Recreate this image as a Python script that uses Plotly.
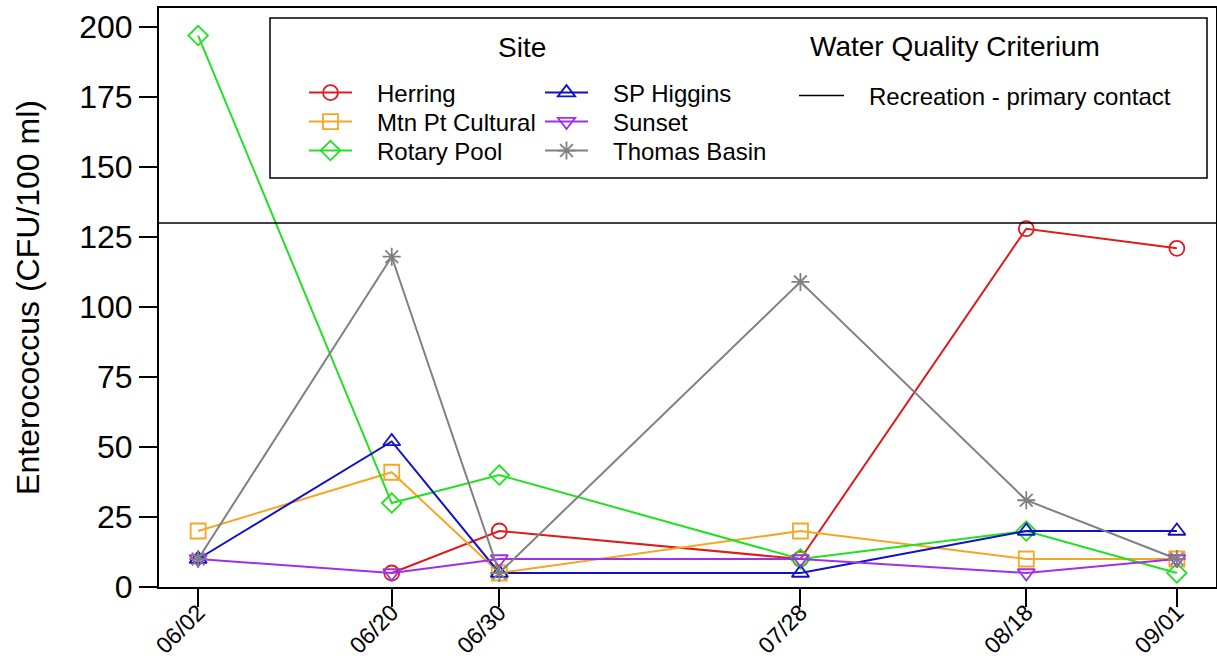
import pandas as pd
import plotly.graph_objects as go

# ---- data ----
dates = ["2022-06-02", "2022-06-20", "2022-06-30", "2022-07-28", "2022-08-18", "2022-09-01"]
date_labels = ["06/02", "06/20", "06/30", "07/28", "08/18", "09/01"]

herring = [None, 5, 20, 10, 128, 121]
mtn_pt_cultural = [20, 41, 5, 20, 10, 10]
rotary_pool = [197, 30, 40, 10, 20, 5]
sp_higgins = [10, 52, 5, 5, 20, 20]
sunset = [10, 5, 10, 10, 5, 10]
thomas_basin = [10, 118, 5, 109, 31, 10]

criterion_name = "Recreation - primary contact"
criterion_value = 130

y_ticks = [0, 25, 50, 75, 100, 125, 150, 175, 200]

series = [
    ("Herring", herring, "#DD1C1C", "circle-open"),
    ("Mtn Pt Cultural", mtn_pt_cultural, "#F5A623", "square-open"),
    ("Rotary Pool", rotary_pool, "#22E022", "diamond-open"),
    ("SP Higgins", sp_higgins, "#1010C8", "triangle-up-open"),
    ("Sunset", sunset, "#A030E8", "triangle-down-open"),
    ("Thomas Basin", thomas_basin, "#808080", "asterisk-open"),
]

FONT = "Arial, Liberation Sans, sans-serif"
NB = "\u00a0\u00a0\u00a0"

# plot-area pixel geometry helpers (paper coords)
L, R, T, B = 159, 1216, 8, 587
def px(xp):
    return (xp - L) / (R - L)
def py(yp):
    return (B - yp) / (B - T)

# legend slot positions (left x of entry, row centre y) in pixels
col_x = [304, 540]
row_y = [93, 122, 151]

fig = go.Figure()
for i, (name, vals, color, sym) in enumerate(series):
    leg_id = "legend" if i == 0 else f"legend{i + 1}"
    fig.add_trace(go.Scatter(
        x=dates, y=vals, name=NB + name, mode="lines+markers",
        line=dict(color=color, width=2),
        marker=dict(symbol=sym, size=15, color=color, line=dict(color=color, width=1.8)),
        connectgaps=False, legend=leg_id, cliponaxis=False,
    ))

# axis ranges (R-style 4% padding on x, 5% headroom on y)
d = pd.to_datetime(dates)
span = d.max() - d.min()
x_range = [(d.min() - span * 0.04).strftime("%Y-%m-%d %H:%M:%S"),
           (d.max() + span * 0.04).strftime("%Y-%m-%d %H:%M:%S")]
all_vals = [v for _, s, _, _ in series for v in s if v is not None]
y_range = [0, max(all_vals) * 1.05]

# criterion line across the plot, with legend entry
fig.add_shape(type="line", xref="x domain", yref="y", x0=0, x1=1,
              y0=criterion_value, y1=criterion_value,
              line=dict(color="black", width=1.5),
              showlegend=True, name=NB + criterion_name, legend="legend7")

# legend frame
fig.add_shape(type="rect", xref="paper", yref="paper",
              x0=px(270), x1=px(1207), y0=py(178), y1=py(18),
              line=dict(color="black", width=1.5), fillcolor="white", layer="below")

fig.add_annotation(text="Site", xref="paper", yref="paper",
                   x=px(522), y=py(47), xanchor="center", yanchor="middle", showarrow=False,
                   font=dict(size=28, color="black", family=FONT))
fig.add_annotation(text="Water Quality Criterium", xref="paper", yref="paper",
                   x=px(955), y=py(46), xanchor="center", yanchor="middle", showarrow=False,
                   font=dict(size=28, color="black", family=FONT))

def leg(xp, yp, iw=43):
    return dict(xref="paper", yref="paper", xanchor="left", yanchor="middle",
                x=px(xp), y=py(yp),
                bgcolor="rgba(0,0,0,0)", borderwidth=0,
                font=dict(size=24, color="black", family=FONT), itemwidth=iw)

legends = {}
for i in range(6):
    key = "legend" if i == 0 else f"legend{i + 1}"
    legends[key] = leg(col_x[i // 3], row_y[i % 3])
legends["legend7"] = leg(794, 96, iw=45)
fig.update_layout(**legends)

fig.update_xaxes(
    type="date", range=x_range, tickvals=dates, ticktext=date_labels, tickangle=-45,
    showline=True, linecolor="black", linewidth=2, mirror=True,
    ticks="outside", ticklen=18, tickwidth=2, tickcolor="black",
    showgrid=False, zeroline=False, automargin=False,
    ticklabelstandoff=-17,
    tickfont=dict(size=23, color="black", family=FONT),
)
fig.update_yaxes(
    range=y_range, tickvals=y_ticks,
    showline=True, linecolor="black", linewidth=2, mirror=True,
    ticks="outside", ticklen=18, tickwidth=2, tickcolor="black",
    showgrid=False, zeroline=False, automargin=False,
    tickfont=dict(size=32, color="black", family=FONT),
    title=dict(text="Enterococcus (CFU/100 ml)", font=dict(size=32, color="black", family=FONT), standoff=30),
)

fig.update_layout(
    width=1217, height=660,
    margin=dict(l=159, r=1, t=8, b=73, autoexpand=False),
    plot_bgcolor="white", paper_bgcolor="white",
    showlegend=True,
)

fig.write_html("out.html", config={"displayModeBar": False},
               post_script="document.body.style.margin='0';")
